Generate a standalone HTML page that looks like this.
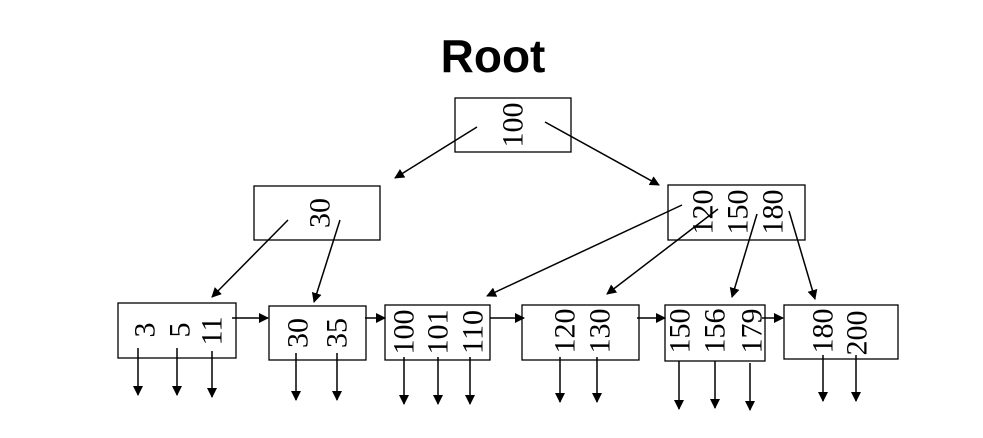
<!DOCTYPE html>
<html><head><style>body{margin:0;background:#fff}svg{display:block}</style></head>
<body>
<svg width="983" height="438" xmlns="http://www.w3.org/2000/svg">
<defs><marker id="a" markerWidth="10" markerHeight="10" refX="9" refY="5" orient="auto" markerUnits="userSpaceOnUse"><path d="M0,0 L10,5 L0,10 z" fill="#000"/></marker></defs>
<text x="493" y="72" font-family="Liberation Sans, sans-serif" font-weight="bold" font-size="46" text-anchor="middle">Root</text>
<g fill="none" stroke="#000" stroke-width="1.3">
<rect x="455" y="98" width="116" height="54"/>
<rect x="254" y="186" width="126" height="54"/>
<rect x="668" y="185" width="137" height="55"/>
<rect x="118" y="303" width="118" height="55"/>
<rect x="269" y="306" width="97" height="54"/>
<rect x="385" y="305" width="105" height="55"/>
<rect x="522" y="305" width="117" height="55"/>
<rect x="665" y="305" width="100" height="56"/>
<rect x="784" y="305" width="114" height="54"/>
</g>
<g stroke="#000" stroke-width="1.5" marker-end="url(#a)">
<line x1="477" y1="127" x2="395" y2="178"/>
<line x1="545" y1="122" x2="659" y2="185"/>
<line x1="288" y1="220" x2="212" y2="297"/>
<line x1="340" y1="220" x2="314" y2="302"/>
<line x1="682" y1="205" x2="487" y2="296"/>
<line x1="718" y1="209" x2="607" y2="294"/>
<line x1="757" y1="214" x2="732" y2="297"/>
<line x1="789" y1="211" x2="815" y2="299"/>
<line x1="232" y1="318" x2="268" y2="318"/>
<line x1="365" y1="318" x2="385" y2="318"/>
<line x1="490" y1="318" x2="524" y2="318"/>
<line x1="637" y1="318" x2="665" y2="318"/>
<line x1="762" y1="318" x2="783" y2="318"/>
<line x1="138" y1="348" x2="138" y2="395"/>
<line x1="177" y1="348" x2="177" y2="395"/>
<line x1="212" y1="351" x2="212" y2="397"/>
<line x1="296" y1="353" x2="296" y2="400"/>
<line x1="337" y1="353" x2="337" y2="400"/>
<line x1="404" y1="357" x2="404" y2="404"/>
<line x1="438" y1="357" x2="438" y2="404"/>
<line x1="470" y1="357" x2="470" y2="404"/>
<line x1="560" y1="357" x2="560" y2="402"/>
<line x1="597" y1="357" x2="597" y2="402"/>
<line x1="679" y1="361" x2="679" y2="409"/>
<line x1="715" y1="361" x2="715" y2="408"/>
<line x1="750" y1="363" x2="750" y2="410"/>
<line x1="823" y1="355" x2="823" y2="401"/>
<line x1="856" y1="355" x2="856" y2="401"/>
</g>
<g font-family="Liberation Serif, serif" font-size="30" text-anchor="middle" dominant-baseline="central">
<text transform="translate(513,125) rotate(-90)">100</text>
<text transform="translate(320,213) rotate(-90)">30</text>
<text transform="translate(703,212) rotate(-90)">120</text>
<text transform="translate(738,212) rotate(-90)">150</text>
<text transform="translate(773,212) rotate(-90)">180</text>
<text transform="translate(145,330) rotate(-90)">3</text>
<text transform="translate(180,330) rotate(-90)">5</text>
<text transform="translate(212,331) rotate(-90)">11</text>
<text transform="translate(298,333) rotate(-90)">30</text>
<text transform="translate(337,333) rotate(-90)">35</text>
<text transform="translate(404,332) rotate(-90)">100</text>
<text transform="translate(438,332) rotate(-90)">101</text>
<text transform="translate(473,332) rotate(-90)">110</text>
<text transform="translate(565,331) rotate(-90)">120</text>
<text transform="translate(600,331) rotate(-90)">130</text>
<text transform="translate(680,331) rotate(-90)">150</text>
<text transform="translate(715,331) rotate(-90)">156</text>
<text transform="translate(752,331) rotate(-90)">179</text>
<text transform="translate(823,331) rotate(-90)">180</text>
<text transform="translate(857,333) rotate(-90)">200</text>
</g>
</svg>
</body></html>
